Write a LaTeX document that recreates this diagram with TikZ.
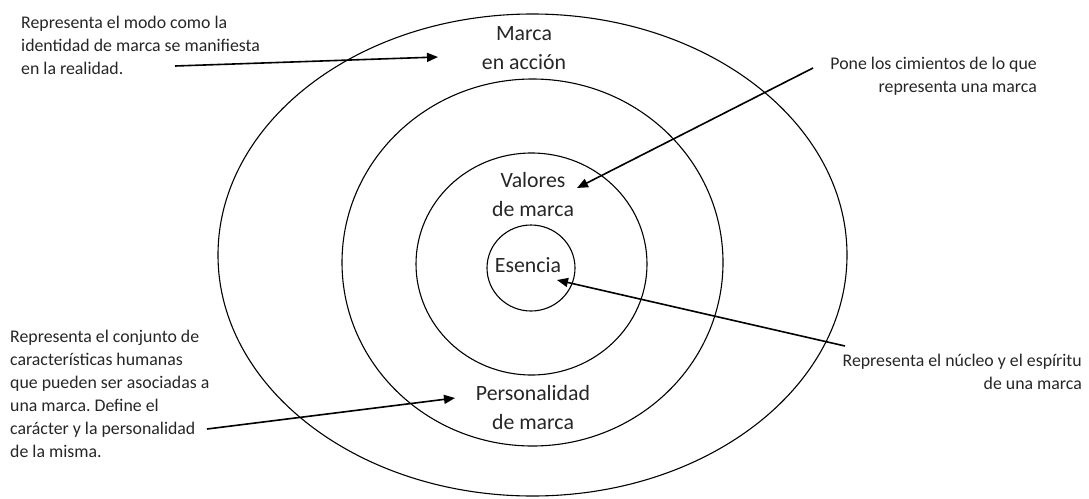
\documentclass[tikz,border=0pt]{standalone}
\usepackage{fontspec}
\setmainfont{Carlito}
\usetikzlibrary{arrows.meta,shapes.geometric}
\frenchspacing
\begin{document}
\begin{tikzpicture}[x=1pt,y=-1pt,
  ring/.style={draw=black,line width=1.1pt,ellipse,inner sep=0pt,outer sep=0pt},
  ringlabel/.style={align=center,inner sep=0pt,font=\fontsize{21.8}{29}\selectfont,text=black!85},
  sidetext/.style={inner sep=0pt,font=\fontsize{17.8}{23}\selectfont,text=black!85},
  pointer/.style={draw=black,line width=1.6pt,-{Triangle[length=11pt,width=9pt]}}]
\useasboundingbox (0,0) rectangle (1089,498);
% rings
\node[ring,minimum width=629pt,minimum height=482pt] (outer) at (532.5,255) {};
\node[ring,minimum width=381pt,minimum height=367pt] (second) at (532.5,262.5) {};
\node[ring,minimum width=231pt,minimum height=222pt] (third) at (531.5,264) {};
\node[ring,minimum width=88pt,minimum height=86pt] (inner) at (531,268) {};
% ring labels
\node[ringlabel] (accion) at (524,48) {Marca\\en acción};
\node[ringlabel] (valores) at (533,194.5) {Valores\\de marca};
\node[ringlabel] (esencia) at (528,265) {Esencia};
\node[ringlabel] (personalidad) at (533,408) {Personalidad\\de marca};
% side texts
\node[sidetext,align=left,anchor=west] (t1) at (21,45) {Representa el modo como la\\identidad de marca se manifiesta\\en la realidad.};
\node[sidetext,align=right,anchor=east] (t2) at (1037,76) {Pone los cimientos de lo que\\representa una marca};
\node[sidetext,align=right,anchor=east] (t3) at (1082,372) {Representa el núcleo y el espíritu\\de una marca};
\node[sidetext,align=left,anchor=west] (t4) at (10,393.5) {Representa el conjunto de\\características humanas\\que pueden ser asociadas a\\una marca. Define el\\carácter y la personalidad\\de la misma.};
% pointer ends
\coordinate (s1) at (175,66);  \coordinate (e1) at (438,57);
\coordinate (s2) at (813,68);  \coordinate (e2) at (577,188);
\coordinate (s3) at (845,346); \coordinate (e3) at (557,280);
\coordinate (s4) at (207,429); \coordinate (e4) at (455,398);
\draw[pointer] (s1) -- (e1);
\draw[pointer] (s2) -- (e2);
\draw[pointer] (s3) -- (e3);
\draw[pointer] (s4) -- (e4);
\end{tikzpicture}
\end{document}
